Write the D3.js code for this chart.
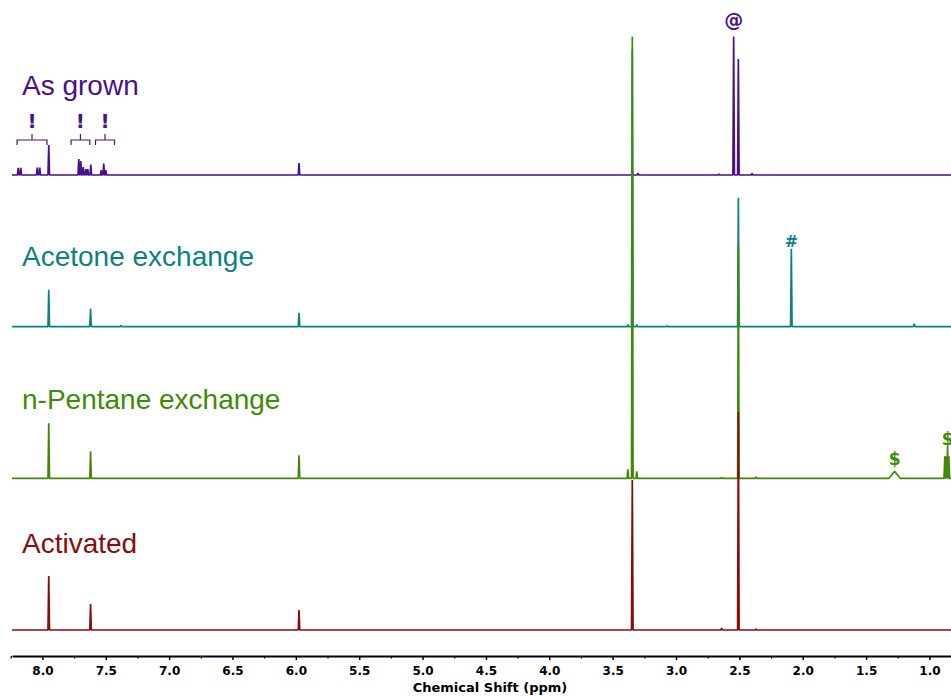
<!DOCTYPE html>
<html>
<head>
<meta charset="utf-8">
<title>NMR spectra</title>
<script src="https://cdn.jsdelivr.net/npm/d3@7"></script>
<style>
  body { margin: 0; background: #fff; }
  svg { display: block; }
  .series-label { font-family: "Liberation Sans", Arial, sans-serif; font-size: 28px; }
  .ann { font-family: "DejaVu Sans", Verdana, sans-serif; font-weight: bold; }
  .axis text { font-family: "DejaVu Sans", Verdana, sans-serif; font-weight: bold; font-size: 12px; fill: #000; }
  .axis-title { font-family: "DejaVu Sans", Verdana, sans-serif; font-weight: bold; font-size: 13px; }
</style>
</head>
<body>
<script>
// series, top to bottom
var seriesNames = ["As grown", "Acetone exchange", "n-Pentane exchange", "Activated"];

// peak lists: chemical shift (ppm) and relative intensity
var asGrownShift  = [8.191, 8.171, 8.041, 8.021, 7.950, 7.713, 7.697, 7.678, 7.658, 7.642, 7.618, 7.536, 7.516, 7.500, 5.975, 3.345, 3.300, 2.660, 2.545, 2.508, 2.400];
var asGrownHeight = [5.1, 5.1, 5.4, 5.4, 21.7, 11.6, 10.1, 5.8, 4.3, 4.3, 7.6, 3.6, 8.3, 3.6, 8.7, 3.6, 1.4, 0.7, 100, 83.8, 1.1];

var acetoneShift  = [7.950, 7.620, 7.380, 5.975, 3.380, 3.345, 3.310, 3.070, 2.508, 2.090, 1.120];
var acetoneHeight = [26.7, 13.0, 0.8, 10.1, 1.5, 200, 1.5, 0.6, 93.1, 56.3, 2.2];

var pentaneShift  = [7.950, 7.620, 5.975, 3.380, 3.345, 3.310, 2.640, 2.508, 2.370, 0.879, 0.869, 0.857, 0.847];
var pentaneHeight = [39.7, 19.5, 16.6, 6.5, 319, 5.0, 0.7, 167.5, 1.1, 16, 16, 23, 16];
// broad hump of n-pentane
var pentaneBroadShift  = [1.275];
var pentaneBroadHeight = [5.0];
var pentaneBroadWidth  = [0.045];

var activatedShift  = [7.950, 7.620, 5.975, 3.345, 2.640, 2.508, 2.370];
var activatedHeight = [39.0, 18.8, 14.4, 108.3, 1.4, 157.4, 0.7];

// axis ticks
var majorTicks = [8.0, 7.5, 7.0, 6.5, 6.0, 5.5, 5.0, 4.5, 4.0, 3.5, 3.0, 2.5, 2.0, 1.5, 1.0];
var minorTicks = [8.25, 7.75, 7.25, 6.75, 6.25, 5.75, 5.25, 4.75, 4.25, 3.75, 3.25, 2.75, 2.25, 1.75, 1.25];

// annotations: symbol, series, shift
var annSymbol = ["@", "#", "$", "$"];
var annSeries = ["As grown", "Acetone exchange", "n-Pentane exchange", "n-Pentane exchange"];
var annShift  = [2.545, 2.090, 1.275, 0.857];

// "!" brackets over the aromatic region of the as-grown sample
var bracketFrom = [8.200, 7.774, 7.581];
var bracketTo   = [7.964, 7.626, 7.431];

// styles
var colors = ["#4b0f8c", "#0b8282", "#418a07", "#8b0b0b"];
var labelRaise = [80, 61, 69, 77];
var annSize = [19, 16, 17, 17];
var annGap  = [10, 2, 6, 1];

var width = 951, height = 696;
var axisY = 656;
var hw = 0.006; // half width of a sharp line, ppm

var svg = d3.select("body").append("svg")
  .attr("width", width)
  .attr("height", height);

var x = d3.scaleLinear().domain([8.24, 0.83]).range([12, 951]);
var base = d3.scalePoint().domain(seriesNames).range([175, 630]);
var amp = d3.scaleLinear().domain([0, 100]).range([0, 138.5]);

function makePoints(shift, h, broadShift, broadH, broadW) {
  var peaks = shift.map(function(s, i) { return { s: s, h: h[i], w: hw }; });
  (broadShift || []).forEach(function(s, i) {
    peaks.push({ s: s, h: broadH[i], w: broadW[i] });
  });
  peaks.sort(function(a, b) { return b.s - a.s; });
  var pts = [[x.domain()[0], 0]];
  peaks.forEach(function(p) {
    pts.push([p.s + p.w, 0]);
    pts.push([p.s, p.h]);
    pts.push([p.s - p.w, 0]);
  });
  pts.push([x.domain()[1], 0]);
  return pts;
}

var spectra = [
  makePoints(asGrownShift, asGrownHeight),
  makePoints(acetoneShift, acetoneHeight),
  makePoints(pentaneShift, pentaneHeight, pentaneBroadShift, pentaneBroadHeight, pentaneBroadWidth),
  makePoints(activatedShift, activatedHeight)
];

svg.append("clipPath").attr("id", "plot")
  .append("rect").attr("x", 12).attr("y", 0).attr("width", width - 12).attr("height", axisY);

var g = svg.append("g").attr("clip-path", "url(#plot)");

g.selectAll("path.spec")
  .data(spectra)
  .enter()
  .append("path")
  .attr("class", "spec")
  .attr("fill", "none")
  .attr("stroke", function(d, i) { return colors[i]; })
  .attr("stroke-width", 1.7)
  .attr("stroke-linejoin", "bevel")
  .attr("d", function(d, i) {
    var b = base(seriesNames[i]);
    return d3.line()
      .x(function(p) { return x(p[0]); })
      .y(function(p) { return b - amp(p[1]); })(d);
  });

// series labels
svg.selectAll("text.series-label")
  .data(seriesNames)
  .enter()
  .append("text")
  .attr("class", "series-label")
  .attr("x", 22)
  .attr("y", function(d, i) { return base(d) - labelRaise[i]; })
  .attr("fill", function(d, i) { return colors[i]; })
  .text(function(d) { return d; });

// peak annotations
function peakTop(series, s) {
  var i = seriesNames.indexOf(series);
  var lists = [[asGrownShift, asGrownHeight], [acetoneShift, acetoneHeight], [pentaneShift, pentaneHeight], [activatedShift, activatedHeight]];
  var k = lists[i][0].indexOf(s), h;
  if (k >= 0) h = lists[i][1][k];
  else h = pentaneBroadHeight[pentaneBroadShift.indexOf(s)];
  return base(series) - amp(h);
}

svg.selectAll("text.ann")
  .data(annSymbol)
  .enter()
  .append("text")
  .attr("class", "ann")
  .attr("text-anchor", "middle")
  .attr("x", function(d, i) { return x(annShift[i]); })
  .attr("y", function(d, i) { return peakTop(annSeries[i], annShift[i]) - annGap[i]; })
  .attr("font-size", function(d, i) { return annSize[i]; })
  .attr("fill", function(d, i) { return colors[seriesNames.indexOf(annSeries[i])]; })
  .text(function(d) { return d; });

// brackets with "!"
var by = base("As grown") - 35;
var brackets = svg.selectAll("g.bracket")
  .data(bracketFrom)
  .enter()
  .append("g")
  .attr("class", "bracket");

brackets.append("path")
  .attr("fill", "none")
  .attr("stroke", colors[0])
  .attr("stroke-width", 1.2)
  .attr("d", function(d, i) {
    var x0 = x(d), x1 = x(bracketTo[i]), xm = (x0 + x1) / 2;
    return "M" + x0 + "," + (by + 5) + "L" + x0 + "," + by + "L" + x1 + "," + by + "L" + x1 + "," + (by + 5) +
      "M" + xm + "," + by + "L" + xm + "," + (by - 6);
  });

brackets.append("text")
  .attr("class", "ann")
  .attr("text-anchor", "middle")
  .attr("font-size", 20)
  .attr("fill", colors[0])
  .attr("x", function(d, i) { return (x(d) + x(bracketTo[i])) / 2; })
  .attr("y", by - 12)
  .text("!");

// x axis
var axis = svg.append("g")
  .attr("class", "axis")
  .attr("transform", "translate(0," + axisY + ")")
  .call(d3.axisBottom(x).tickValues(majorTicks).tickFormat(d3.format(".1f")).tickSize(4).tickSizeOuter(0).tickPadding(6.5));
axis.select(".domain").attr("stroke-width", 2);
axis.selectAll(".tick line").attr("stroke-width", 1.5);

svg.append("g")
  .attr("transform", "translate(0," + axisY + ")")
  .call(d3.axisBottom(x).tickValues(minorTicks).tickFormat("").tickSize(2.5).tickSizeOuter(0))
  .call(function(s) { s.select(".domain").remove(); })
  .selectAll(".tick line").attr("stroke-width", 1.2);

svg.append("text")
  .attr("class", "axis-title")
  .attr("x", 490)
  .attr("y", 692)
  .attr("text-anchor", "middle")
  .text("Chemical Shift (ppm)");
</script>
</body>
</html>
